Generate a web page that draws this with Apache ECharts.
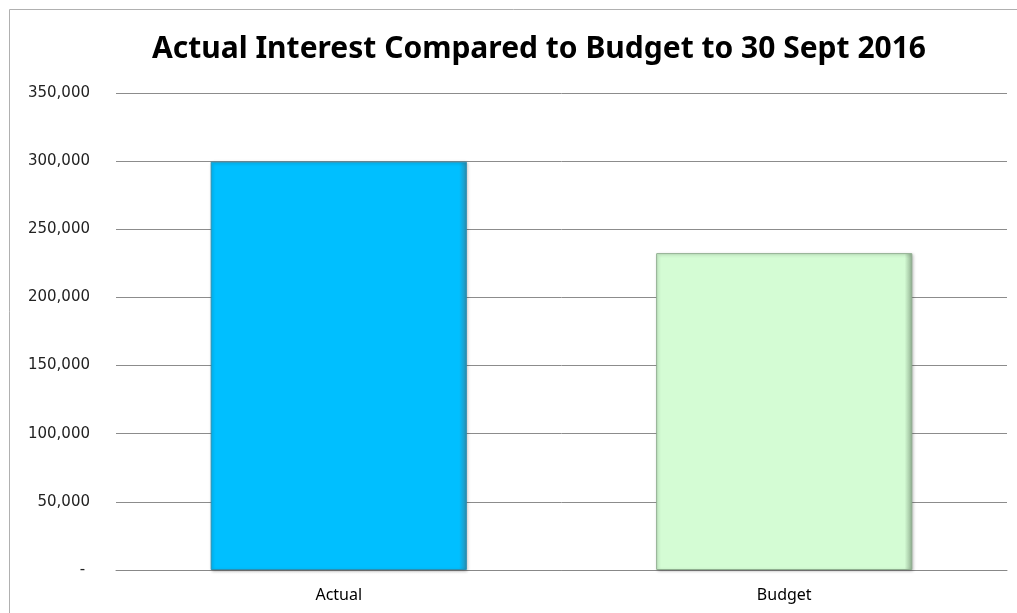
<!DOCTYPE html>
<html>
<head>
<meta charset="utf-8">
<script src="https://cdn.jsdelivr.net/npm/echarts@6/dist/echarts.min.js"></script>
<style>
  html, body { margin: 0; padding: 0; background: #fff; }
  #main { width: 1017px; height: 613px; }
</style>
</head>
<body>
<div id="main"></div>
<script>
// 数据
var categories = ['Actual', 'Budget'];
var values = [299600, 232500];
var barColors = ['#00BFFF', '#D4FCD4'];
var borderColors = ['#2a8fb2', '#8fae8f'];

var chart = echarts.init(document.getElementById('main'));

var option = {
    backgroundColor: '#fff',
    animation: false,
    title: {
        text: 'Actual Interest Compared to Budget to 30 Sept 2016',
        left: 534,
        textAlign: 'center',
        top: 29,
        textStyle: {
            fontFamily: 'Noto Sans',
            fontWeight: 'bold',
            fontSize: 30,
            color: '#000'
        }
    },
    graphic: [{
        type: 'rect',
        shape: { x: 9.5, y: 9.5, width: 1020, height: 620 },
        style: { fill: 'none', stroke: '#b0b0b0', lineWidth: 1 },
        silent: true
    }],
    grid: {
        left: 116,
        right: 10,
        top: 93,
        bottom: 43
    },
    xAxis: {
        type: 'category',
        data: categories,
        axisTick: { show: false },
        axisLine: { lineStyle: { color: '#888', width: 1 } },
        axisLabel: {
            margin: 17,
            fontFamily: 'Noto Sans',
            fontSize: 16,
            color: '#000'
        }
    },
    yAxis: {
        type: 'value',
        min: 0,
        max: 350000,
        interval: 50000,
        axisLine: { show: false },
        axisTick: { show: false },
        splitLine: { lineStyle: { color: '#8c8c8c', width: 1 } },
        axisLabel: {
            margin: 26,
            fontFamily: 'DejaVu Sans',
            fontSize: 15,
            color: '#222',
            formatter: function (v) {
                return v === 0 ? '- ' : v.toLocaleString('en-US');
            }
        }
    },
    series: [{
        type: 'bar',
        barWidth: '57.5%',
        data: values.map(function (v, i) {
            return {
                value: v,
                itemStyle: {
                    color: {
                        type: 'linear', x: 0, y: 0, x2: 1, y2: 0,
                        colorStops: [
                            { offset: 0, color: barColors[i] },
                            { offset: 0.97, color: barColors[i] },
                            { offset: 1, color: borderColors[i] }
                        ]
                    },
                    borderColor: borderColors[i],
                    borderWidth: 1,
                    shadowColor: 'rgba(0,0,0,0.25)',
                    shadowBlur: 3,
                    shadowOffsetX: 1,
                    shadowOffsetY: 1
                }
            };
        })
    }]
};

chart.setOption(option);
</script>
</body>
</html>
